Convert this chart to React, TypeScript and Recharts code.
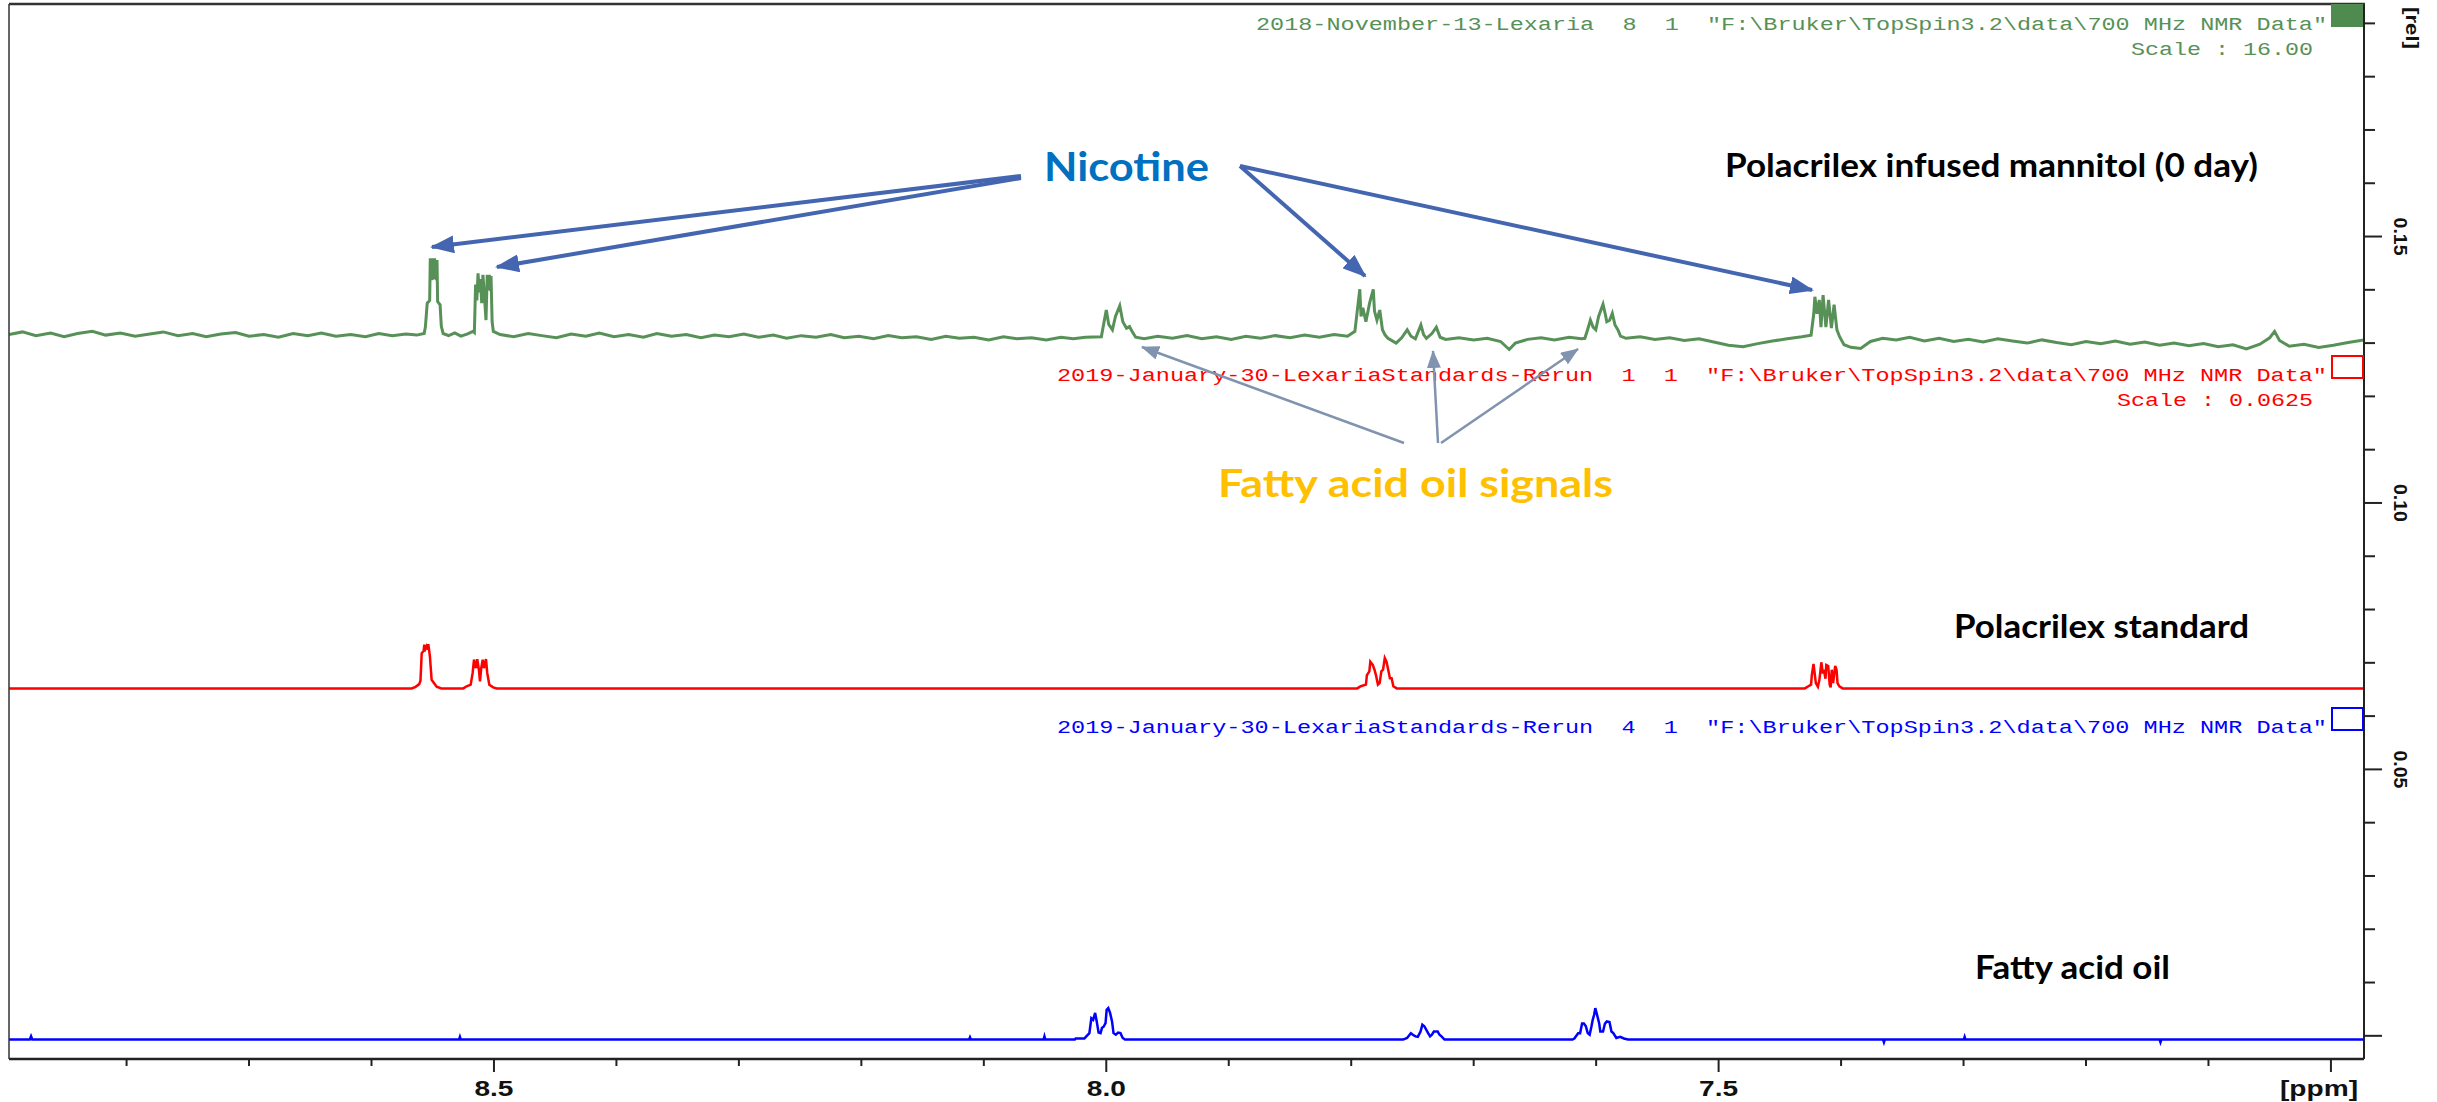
import { LineChart, Line, XAxis, YAxis } from "recharts";

// ppm / relative intensity pairs
const greenTrace: number[][] = [
  [8.896, 0.1316], [8.885, 0.1321], [8.874, 0.1314], [8.862, 0.1319], [8.851, 0.1312],
  [8.84, 0.1318], [8.828, 0.1322], [8.817, 0.1315], [8.805, 0.1319], [8.793, 0.1313],
  [8.781, 0.1317], [8.77, 0.1321], [8.758, 0.1314], [8.746, 0.1318], [8.735, 0.1312],
  [8.723, 0.1317], [8.711, 0.132], [8.7, 0.1313], [8.688, 0.1316], [8.676, 0.1311],
  [8.664, 0.1318], [8.652, 0.1314], [8.641, 0.1319], [8.629, 0.1313], [8.617, 0.1316],
  [8.605, 0.1312], [8.594, 0.1318], [8.583, 0.1314], [8.572, 0.1317], [8.563, 0.1315],
  [8.557, 0.1318], [8.556, 0.133], [8.5545, 0.1375], [8.5525, 0.138], [8.552, 0.1459],
  [8.5505, 0.1418], [8.55, 0.1459], [8.549, 0.142], [8.5485, 0.1459], [8.547, 0.1418],
  [8.5465, 0.1456], [8.546, 0.1378], [8.544, 0.1372], [8.543, 0.1332], [8.5415, 0.1318],
  [8.537, 0.1314], [8.532, 0.1319], [8.527, 0.1313], [8.522, 0.1317], [8.517, 0.1322],
  [8.516, 0.132], [8.515, 0.141], [8.514, 0.138], [8.513, 0.1431], [8.512, 0.1395],
  [8.511, 0.142], [8.51, 0.1375], [8.509, 0.1428], [8.508, 0.1395], [8.5065, 0.1343],
  [8.5055, 0.1428], [8.5045, 0.14], [8.5038, 0.1428], [8.503, 0.1398], [8.5024, 0.1426],
  [8.5015, 0.134], [8.5005, 0.1322],
  [8.495, 0.1316], [8.484, 0.1312], [8.472, 0.1318], [8.461, 0.1314], [8.449, 0.131],
  [8.437, 0.1317], [8.425, 0.1313], [8.414, 0.1319], [8.402, 0.1312], [8.39, 0.1316],
  [8.378, 0.1311], [8.367, 0.1318], [8.355, 0.1313], [8.343, 0.1316], [8.331, 0.131],
  [8.32, 0.1315], [8.308, 0.1312], [8.296, 0.1317], [8.284, 0.1311], [8.272, 0.1315],
  [8.261, 0.1309], [8.249, 0.1314], [8.237, 0.1311], [8.225, 0.1316], [8.214, 0.131],
  [8.202, 0.1313], [8.19, 0.1308], [8.178, 0.1314], [8.167, 0.131], [8.155, 0.1312],
  [8.143, 0.1307], [8.131, 0.1313], [8.12, 0.1309], [8.108, 0.1311], [8.096, 0.1306],
  [8.084, 0.1312], [8.073, 0.1308], [8.061, 0.131], [8.049, 0.1306], [8.037, 0.1311],
  [8.027, 0.1308], [8.017, 0.1311],
  [8.004, 0.1312], [8.003, 0.1325], [8.0, 0.1362], [7.998, 0.1335], [7.995, 0.1325],
  [7.9925, 0.135], [7.989, 0.137], [7.9865, 0.134], [7.9835, 0.1328], [7.981, 0.1331],
  [7.979, 0.1322], [7.976, 0.1311],
  [7.969, 0.1308], [7.958, 0.1313], [7.946, 0.1309], [7.934, 0.1314], [7.922, 0.1308],
  [7.91, 0.1312], [7.898, 0.1307], [7.886, 0.1313], [7.874, 0.1309], [7.862, 0.1314],
  [7.85, 0.131], [7.838, 0.1315], [7.826, 0.1311], [7.814, 0.1316], [7.803, 0.1313],
  [7.797, 0.1322], [7.795, 0.1362], [7.793, 0.1401], [7.792, 0.135], [7.7905, 0.1366],
  [7.788, 0.134], [7.785, 0.1375], [7.782, 0.1401], [7.781, 0.136], [7.779, 0.1343],
  [7.7767, 0.1362], [7.7745, 0.1325], [7.7723, 0.1315], [7.77, 0.1309],
  [7.7678, 0.1306], [7.7633, 0.13], [7.7588, 0.131], [7.7543, 0.1325], [7.7512, 0.1313],
  [7.7476, 0.1308], [7.7431, 0.1334], [7.7409, 0.1316], [7.7386, 0.1309], [7.7341, 0.1318],
  [7.7305, 0.133], [7.7274, 0.1311], [7.7229, 0.1307],
  [7.712, 0.131], [7.7, 0.1306], [7.689, 0.1309], [7.678, 0.1303], [7.671, 0.1288],
  [7.666, 0.13], [7.656, 0.1307], [7.645, 0.131], [7.634, 0.1306], [7.622, 0.1311],
  [7.612, 0.1308],
  [7.6092, 0.1309], [7.607, 0.1325], [7.6047, 0.1343], [7.6025, 0.133], [7.6003, 0.1325],
  [7.598, 0.135], [7.5944, 0.1373], [7.5926, 0.1355], [7.5913, 0.134], [7.589, 0.1343],
  [7.5868, 0.1356], [7.5846, 0.1334], [7.5823, 0.1325], [7.5801, 0.1313], [7.5756, 0.1309],
  [7.564, 0.1312], [7.552, 0.1307], [7.54, 0.131], [7.528, 0.1305], [7.516, 0.1308],
  [7.504, 0.1302], [7.492, 0.1296], [7.48, 0.1293], [7.468, 0.1299], [7.456, 0.1304],
  [7.444, 0.1308], [7.432, 0.1312],
  [7.4245, 0.1315], [7.4223, 0.1355], [7.4214, 0.1387], [7.4196, 0.1355], [7.4178, 0.1381],
  [7.4164, 0.133], [7.4147, 0.139], [7.4124, 0.133], [7.4102, 0.1381], [7.4079, 0.1328],
  [7.4057, 0.1372], [7.4034, 0.1325], [7.4012, 0.1312], [7.3976, 0.1297],
  [7.392, 0.1292], [7.384, 0.129], [7.376, 0.1303], [7.366, 0.1309], [7.355, 0.1306],
  [7.344, 0.1311], [7.332, 0.1304], [7.32, 0.1309], [7.308, 0.1303], [7.296, 0.1307],
  [7.284, 0.1302], [7.272, 0.1308], [7.26, 0.1304], [7.248, 0.13], [7.236, 0.1306],
  [7.224, 0.1301], [7.212, 0.1297], [7.2, 0.1303], [7.188, 0.1299], [7.176, 0.1304],
  [7.164, 0.1298], [7.152, 0.1302], [7.14, 0.1296], [7.128, 0.13], [7.116, 0.1295],
  [7.104, 0.1299], [7.092, 0.1293], [7.08, 0.1297], [7.069, 0.1289], [7.058, 0.1298],
  [7.05, 0.131], [7.046, 0.1322], [7.042, 0.1305], [7.034, 0.1294], [7.022, 0.1298],
  [7.01, 0.1292], [6.998, 0.1296], [6.986, 0.1301], [6.973, 0.1306],
];

const redTrace: number[][] = [
  [8.896, 0.0652],
  [8.5672, 0.0652], [8.564, 0.0655], [8.561, 0.066], [8.56, 0.0667], [8.559, 0.0718],
  [8.5575, 0.0722], [8.5569, 0.0734], [8.556, 0.0726], [8.555, 0.0731], [8.554, 0.0725],
  [8.5536, 0.0735], [8.5523, 0.0712], [8.5509, 0.0668], [8.5496, 0.0664], [8.5468, 0.0655],
  [8.543, 0.0652],
  [8.5251, 0.0652], [8.5223, 0.0656], [8.519, 0.0659], [8.5174, 0.0681], [8.5163, 0.0706],
  [8.5147, 0.069], [8.5136, 0.0707], [8.5122, 0.0685], [8.5114, 0.0665], [8.5104, 0.069],
  [8.5092, 0.0706], [8.5082, 0.069], [8.5065, 0.0707], [8.5055, 0.0681], [8.5038, 0.0659],
  [8.5006, 0.0654], [8.4978, 0.0652],
  [7.7951, 0.0652], [7.7922, 0.0656], [7.788, 0.0659], [7.7872, 0.0677], [7.7852, 0.0684],
  [7.7844, 0.0702], [7.7824, 0.0696], [7.781, 0.0687], [7.7796, 0.0675], [7.7782, 0.0659],
  [7.7768, 0.0662], [7.7754, 0.0684], [7.774, 0.0687], [7.7726, 0.0709], [7.7712, 0.0702],
  [7.7698, 0.0687], [7.7684, 0.0671], [7.767, 0.0671], [7.7656, 0.0656], [7.7628, 0.0652],
  [7.4296, 0.0652], [7.4267, 0.0656], [7.4245, 0.0659], [7.4239, 0.0677], [7.4225, 0.0698],
  [7.4206, 0.0662], [7.4189, 0.0655], [7.4177, 0.0668], [7.4161, 0.0701], [7.4149, 0.068],
  [7.4141, 0.0687], [7.4127, 0.067], [7.4121, 0.0696], [7.4105, 0.0694], [7.4093, 0.0659],
  [7.4085, 0.0654], [7.4076, 0.0687], [7.4065, 0.0662], [7.4048, 0.0694], [7.4037, 0.0687],
  [7.4029, 0.0662], [7.4014, 0.0656], [7.3987, 0.0652],
  [6.973, 0.0652],
];

const blueTrace: number[][] = [
  [8.896, -0.0007],
  [8.879, -0.0007], [8.878, -0.0001], [8.877, -0.0007],
  [8.5285, -0.0007], [8.5278, -0.0002], [8.5271, -0.0007],
  [8.112, -0.0007], [8.1113, -0.0003], [8.1106, -0.0007],
  [8.0512, -0.0007], [8.0505, -0.0001], [8.0498, -0.0007],
  [8.0257, -0.0007], [8.025, -0.0005], [8.0179, -0.0005], [8.0163, -0.0001], [8.0138, 0.0005],
  [8.0122, 0.0033], [8.0107, 0.003], [8.0091, 0.0043], [8.0078, 0.0027], [8.0063, 0.0006],
  [8.0047, 0.0005], [8.0035, 0.0015], [8.0022, 0.0017], [8.0006, 0.0024], [7.9997, 0.0049],
  [7.9984, 0.0052], [7.9969, 0.0043], [7.9953, 0.0027], [7.9941, 0.0005], [7.9922, 0.0002],
  [7.9903, 0.0006], [7.9884, 0.0005], [7.9866, -0.0004], [7.9847, -0.0007],
  [7.7575, -0.0007], [7.7544, -0.0004], [7.7513, 0.0005], [7.7497, 0.0002], [7.7475, -0.0001],
  [7.7456, -0.0002], [7.7434, 0.0008], [7.7419, 0.0021], [7.7403, 0.0018], [7.7372, 0.0005],
  [7.7356, -0.0001], [7.7341, 0.0002], [7.7325, 0.0008], [7.7294, 0.0008], [7.7279, 0.0002],
  [7.7263, -0.0001], [7.7238, -0.0007],
  [7.6193, -0.0007], [7.6178, -0.0005], [7.6147, 0.0005], [7.6131, 0.0005], [7.6115, 0.0023],
  [7.61, 0.0023], [7.6084, 0.0018], [7.6069, 0.0005], [7.6053, 0.0002], [7.6038, 0.0018],
  [7.6028, 0.003], [7.6016, 0.004], [7.6007, 0.0052], [7.5991, 0.0038], [7.5975, 0.0023],
  [7.5966, 0.0008], [7.5944, 0.0008], [7.5928, 0.0023], [7.5913, 0.0027], [7.5891, 0.0026],
  [7.5875, 0.0008], [7.586, 0.0005], [7.5835, -0.0004], [7.5804, -0.0002], [7.5773, -0.0005],
  [7.5741, -0.0007],
  [7.3657, -0.0007], [7.365, -0.0012], [7.3643, -0.0007],
  [7.2998, -0.0007], [7.2991, -0.0002], [7.2984, -0.0007],
  [7.1399, -0.0007], [7.1392, -0.0012], [7.1385, -0.0007],
  [6.973, -0.0007],
];

const xTicks = [8.8, 8.7, 8.6, 8.5, 8.4, 8.3, 8.2, 8.1, 8.0, 7.9, 7.8, 7.7, 7.6, 7.5, 7.4, 7.3, 7.2, 7.1, 7.0];
const xTickLabels = ["8.5", "8.0", "7.5"];
const yTicks = [0, 0.01, 0.02, 0.03, 0.04, 0.05, 0.06, 0.07, 0.08, 0.09, 0.1, 0.11, 0.12, 0.13, 0.14, 0.15, 0.16, 0.17, 0.18, 0.19];
const yTickLabels = ["0.05", "0.10", "0.15"];

const greenInfo = '2018-November-13-Lexaria  8  1  "F:\\Bruker\\TopSpin3.2\\data\\700 MHz NMR Data"';
const redInfo = '2019-January-30-LexariaStandards-Rerun  1  1  "F:\\Bruker\\TopSpin3.2\\data\\700 MHz NMR Data"';
const blueInfo = '2019-January-30-LexariaStandards-Rerun  4  1  "F:\\Bruker\\TopSpin3.2\\data\\700 MHz NMR Data"';

const toPoints = (arr: number[][]) => arr.map(([ppm, v]) => ({ ppm, v }));

const W = 2437;
const H = 1102;
const AXIS = "#222";
const GREEN = "#579157";
const NIC = "#4465b0";
const FAT = "#8193ae";
const mono = "'Liberation Mono', monospace";
const label = "Lato, 'Open Sans', sans-serif";

function XTick({ x, y, payload }: any) {
  const v = payload.value as number;
  const major = Math.abs(v * 2 - Math.round(v * 2)) < 1e-6;
  const txt = v.toFixed(1);
  return (
    <g>
      <line x1={x} x2={x} y1={y} y2={y + (major ? 13 : 7)} stroke={AXIS} strokeWidth={2} />
      {xTickLabels.includes(txt) && (
        <text x={x} y={y + 37} textAnchor="middle" fontFamily="'Liberation Sans', Arial" fontWeight="bold"
          fontSize={22} textLength={39} lengthAdjust="spacingAndGlyphs" fill="#111">
          {txt}
        </text>
      )}
    </g>
  );
}

function YTick({ x, y, payload }: any) {
  const v = payload.value as number;
  const major = Math.round(v * 100) % 5 === 0;
  const txt = v.toFixed(2);
  const cx = x + 36;
  return (
    <g>
      <line x1={x} x2={x + (major ? 18 : 11)} y1={y} y2={y} stroke={AXIS} strokeWidth={2} />
      {yTickLabels.includes(txt) && (
        <text x={cx} y={y} transform={`rotate(90, ${cx}, ${y})`} textAnchor="middle" dominantBaseline="central"
          fontFamily="'Liberation Sans', Arial" fontWeight="bold" fontSize={18} textLength={38}
          lengthAdjust="spacingAndGlyphs" fill="#111">
          {txt}
        </text>
      )}
    </g>
  );
}

function InfoText({ x2, y, text, len, color }: { x2: number; y: number; text: string; len: number; color: string }) {
  return (
    <text x={x2 - len} y={y} fontFamily={mono} fontSize={18} fill={color} textLength={len}
      lengthAdjust="spacingAndGlyphs" style={{ whiteSpace: "pre" }}>
      {text}
    </text>
  );
}

export default function App() {
  return (
    <div style={{ position: "absolute", left: 0, top: 0, width: W, height: H, background: "#fff" }}>
      <LineChart width={W} height={H} margin={{ top: 5, right: 0, bottom: 0, left: 9 }}>
        <XAxis type="number" dataKey="ppm" domain={[6.973, 8.896]} reversed allowDataOverflow
          ticks={xTicks} interval={0} tickSize={0} tickMargin={0} height={43}
          axisLine={{ stroke: AXIS, strokeWidth: 2.5 }} tick={(p: any) => <XTick {...p} />} />
        <YAxis type="number" orientation="right" domain={[-0.00435, 0.19345]} allowDataOverflow
          ticks={yTicks} interval={0} tickSize={0} tickMargin={0} width={73}
          axisLine={{ stroke: AXIS, strokeWidth: 2 }} tick={(p: any) => <YTick {...p} />} />
        <Line data={toPoints(greenTrace)} dataKey="v" type="linear" stroke={GREEN} strokeWidth={3}
          dot={false} isAnimationActive={false} />
        <Line data={toPoints(redTrace)} dataKey="v" type="linear" stroke="#ff0000" strokeWidth={2.5}
          dot={false} isAnimationActive={false} />
        <Line data={toPoints(blueTrace)} dataKey="v" type="linear" stroke="#0000ff" strokeWidth={2.5}
          dot={false} isAnimationActive={false} />
      </LineChart>

      <svg width={W} height={H} style={{ position: "absolute", left: 0, top: 0, pointerEvents: "none" }}>
        <defs>
          <marker id="nicHead" markerWidth={24} markerHeight={18} refX={22} refY={9} orient="auto" markerUnits="userSpaceOnUse">
            <path d="M0,0 L24,9 L0,18 Z" fill={NIC} />
          </marker>
          <marker id="fatHead" markerWidth={18} markerHeight={14} refX={17} refY={7} orient="auto" markerUnits="userSpaceOnUse">
            <path d="M0,0 L18,7 L0,14 Z" fill={FAT} />
          </marker>
        </defs>

        {/* frame: top and left edges */}
        <line x1={9} x2={2365} y1={4} y2={4} stroke="#333" strokeWidth={2.5} />
        <line x1={9} x2={9} y1={4} y2={1059} stroke="#333" strokeWidth={1.5} />

        {/* spectrum headers */}
        <InfoText x2={2327} y={29.5} text={greenInfo} len={1071} color={GREEN} />
        <InfoText x2={2313} y={55} text="Scale : 16.00" len={182} color={GREEN} />
        <rect x={2331} y={4} width={32} height={23} fill="#4f8a4f" />

        <InfoText x2={2327} y={381} text={redInfo} len={1270} color="#ff0000" />
        <InfoText x2={2313} y={406} text="Scale : 0.0625" len={196} color="#ff0000" />
        <rect x={2332} y={356} width={31} height={22} fill="none" stroke="#ff0000" strokeWidth={2} />

        <InfoText x2={2327} y={733} text={blueInfo} len={1270} color="#0000ff" />
        <rect x={2332} y={708} width={31} height={22} fill="none" stroke="#0000ff" strokeWidth={2} />

        {/* axis titles */}
        <text x={2319} y={1096} textAnchor="middle" fontFamily="'Liberation Sans', Arial" fontWeight="bold"
          fontSize={22} textLength={78} lengthAdjust="spacingAndGlyphs" fill="#111">[ppm]</text>
        <text x={2412} y={28} transform="rotate(90, 2412, 28)" textAnchor="middle" dominantBaseline="central"
          fontFamily="'Liberation Sans', Arial" fontWeight="bold" fontSize={18} textLength={42}
          lengthAdjust="spacingAndGlyphs" fill="#111">[rel]</text>

        {/* sample labels */}
        <text x={1725} y={177} fontFamily={label} fontWeight="bold" fontSize={33} textLength={533}
          lengthAdjust="spacingAndGlyphs" fill="#000">Polacrilex infused mannitol (0 day)</text>
        <text x={1954} y={638} fontFamily={label} fontWeight="bold" fontSize={33} textLength={295}
          lengthAdjust="spacingAndGlyphs" fill="#000">Polacrilex standard</text>
        <text x={1975} y={979} fontFamily={label} fontWeight="bold" fontSize={33} textLength={195}
          lengthAdjust="spacingAndGlyphs" fill="#000">Fatty acid oil</text>

        {/* Nicotine callout */}
        <text x={1044} y={181} fontFamily={label} fontWeight="bold" fontSize={41} textLength={165}
          lengthAdjust="spacingAndGlyphs" fill="#0070c0">Nicotine</text>
        <line x1={1021} y1={176} x2={432} y2={247} stroke={NIC} strokeWidth={4} markerEnd="url(#nicHead)" />
        <line x1={1021} y1={178} x2={497} y2={267} stroke={NIC} strokeWidth={4} markerEnd="url(#nicHead)" />
        <line x1={1240} y1={166} x2={1365} y2={276} stroke={NIC} strokeWidth={4} markerEnd="url(#nicHead)" />
        <line x1={1240} y1={166} x2={1812} y2={290} stroke={NIC} strokeWidth={4} markerEnd="url(#nicHead)" />

        {/* Fatty acid callout */}
        <text x={1218} y={497} fontFamily={label} fontWeight="bold" fontSize={39} textLength={395}
          lengthAdjust="spacingAndGlyphs" fill="#ffc000">Fatty acid oil signals</text>
        <line x1={1404} y1={443} x2={1142} y2={347} stroke={FAT} strokeWidth={2.5} markerEnd="url(#fatHead)" />
        <line x1={1438} y1={443} x2={1433} y2={351} stroke={FAT} strokeWidth={2.5} markerEnd="url(#fatHead)" />
        <line x1={1441} y1={443} x2={1578} y2={349} stroke={FAT} strokeWidth={2.5} markerEnd="url(#fatHead)" />
      </svg>
    </div>
  );
}
